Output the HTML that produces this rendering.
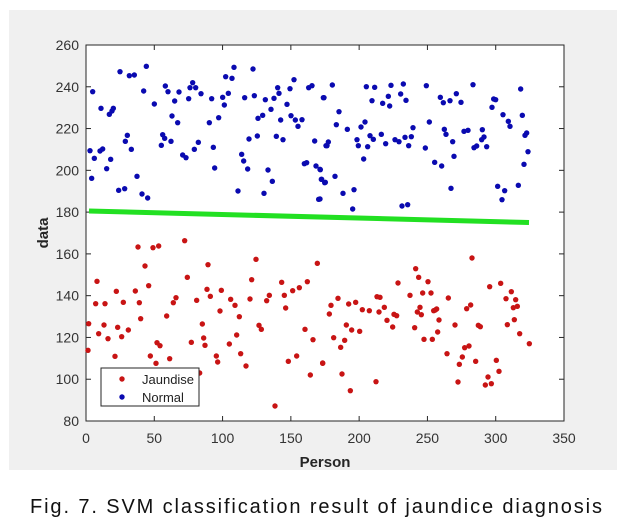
<!DOCTYPE html>
<html><head><meta charset="utf-8"><style>
html,body{margin:0;padding:0;background:#fff;width:622px;height:524px;overflow:hidden}
svg{display:block}
text{font-family:"Liberation Sans",Arial,sans-serif}
</style></head><body>
<svg id="s" width="622" height="524" viewBox="0 0 622 524" xmlns="http://www.w3.org/2000/svg">
<rect x="9" y="10" width="608" height="460" fill="#f0f0f0"/>
<rect x="86" y="45" width="478" height="376" fill="#fff" stroke="#262626" stroke-width="1"/>
<g id="ticks" stroke="#262626" stroke-width="1"></g>
<g id="lab" fill="#333" font-size="14"></g>
<line x1="89" y1="211" x2="529" y2="222.5" stroke="#22e022" stroke-width="5"/>
<g id="blue" fill="#0a0ab0"></g>
<g id="red" fill="#c81414"></g>
<rect x="101" y="368" width="98" height="38" fill="#fff" stroke="#262626" stroke-width="1"/>
<circle cx="122" cy="379" r="2.7" fill="#c81414"/>
<circle cx="122" cy="397" r="2.7" fill="#0a0ab0"/>
<text x="142" y="384" font-size="13" fill="#222">Jaundise</text>
<text x="142" y="402" font-size="13" fill="#222">Normal</text>
<text x="325" y="467" font-size="15" font-weight="bold" fill="#262626" text-anchor="middle">Person</text>
<text transform="translate(48,233) rotate(-90)" font-size="15" font-weight="bold" fill="#262626" text-anchor="middle">data</text>
<text x="30" y="513" font-size="20" fill="#111" textLength="572" lengthAdjust="spacing">Fig. 7. SVM classification result of jaundice diagnosis</text>
</svg>
<script>
var ns="http://www.w3.org/2000/svg";
function el(p,t,a,txt){var e=document.createElementNS(ns,t);for(var k in a)e.setAttribute(k,a[k]);if(txt!==undefined)e.textContent=txt;document.getElementById(p).appendChild(e);}
for(var v=0;v<=350;v+=50){var x=86+v*478/350;
 if(v>0&&v<350){el('ticks','line',{x1:x,y1:421,x2:x,y2:416});el('ticks','line',{x1:x,y1:45,x2:x,y2:50});}
 el('lab','text',{x:x,y:443,'text-anchor':'middle'},v);}
for(var v=80;v<=260;v+=20){var y=421-(v-80)*376/180;
 if(v>80&&v<260){el('ticks','line',{x1:86,y1:y,x2:91,y2:y});el('ticks','line',{x1:564,y1:y,x2:559,y2:y});}
 el('lab','text',{x:79,y:y+5,'text-anchor':'end'},v);}
function add(id,ox,oy,arr){for(var i=0;i<arr.length;i+=2){el(id,'circle',{cx:86+ox+arr[i]/3,cy:45+oy+arr[i+1]/3,r:2.7});}}
add('blue',0,0,[20,140,45,190,70,208,78,198,82,190,102,80,130,92,145,90,181,64,173,138,205,177,238,123,246,140,266,168,279,141,258,213,275,233,308,161,312,128,320,113,329,128,345,146,370,233,377,161,398,218,410,157,415,180,419,95,427,145,438,100,444,67,476,158,501,72,505,152,516,220,530,211,538,164,555,193,564,160,575,128,579,145,584,225,603,178,612,131,615,212,624,104,628,225,636,244,648,224,668,128,678,122,712,158,12,317,25,340,42,318,50,312,62,371,74,343,17,400,98,436,116,431,118,289,124,271,136,313,153,394,168,447,185,459,226,301,230,269,236,280,255,289,290,330,300,338,325,313,337,292,382,307,386,369,456,438,467,328,473,348,485,372,489,282,514,273,534,445,546,375,559,409,571,274,591,284,655,356,662,353,686,288,690,363,698,463,703,374,706,403,716,413,720,302]);
add('blue',234,0,[37,120,12,158,57,200,49,239,21,302,25,291,82,253,111,284,115,302,123,246,135,231,143,305,131,342,139,125,164,127,156,167,150,272,160,283,184,268,188,175,197,296,205,154,209,183,213,121,225,284,237,290,242,147,250,117,258,166,255,277,266,302,274,275,279,248,316,309,319,122,328,231,344,352,365,363,361,157,370,173,373,253,378,268,390,167,398,290,402,334,409,146,423,172,432,259,444,256,459,119,462,308,470,303,487,254,485,284,492,276,500,305,516,187,521,162,527,164,549,209,565,229,570,244,602,132,607,211,612,358,615,271,620,264,624,320,0,373,5,403,16,412,45,394,69,445,102,434,0,462,98,492,246,483,263,479,393,430,533,424,546,464,554,437,595,421]);
add('red',0,185,[8,281,6,361,33,154,29,221,38,311,54,285,57,221,66,326,87,379,91,184,95,292,107,320,112,217,127,300,148,183,156,51,160,218,164,266,177,108,188,167,193,378,201,53,210,400,213,338,218,48,222,347,242,258,251,386,262,218,270,203,296,32,304,142,316,337,332,211,341,429,349,282,353,324,357,346,363,178,366,104,373,199,391,378,395,396,402,243,406,181,430,342,434,208,447,226,452,315,460,260,464,371,480,408,492,207,497,149,510,88,519,286,526,298,542,212,550,196,567,528,587,157,595,196,599,234,607,394,620,182,632,378,640,173,657,298,664,155,673,435,681,329,694,100,710,399]);
add('red',234,185,[8,400,28,252,33,226,41,323,54,205,62,352,66,432,74,331,79,285,86,222,91,482,95,300,107,217,119,304,127,239,148,242,168,455,171,200,180,202,177,246,193,232,201,271,218,291,222,253,230,257,234,159,270,196,284,293,287,116,296,142,292,246,300,232,304,254,308,189,312,328,324,155,333,189,337,328,341,242,346,240,350,237,353,306,357,270,381,371,385,204,405,285,414,456,418,403,427,381,434,353,440,236,447,348,452,225,456,84,467,394,475,286,481,290,496,465,504,441,509,170,514,461,529,391,537,424,542,160,558,206,562,284,574,185,580,233,587,209,592,229,583,269,599,311,628,341]);
</script>
</body></html>
